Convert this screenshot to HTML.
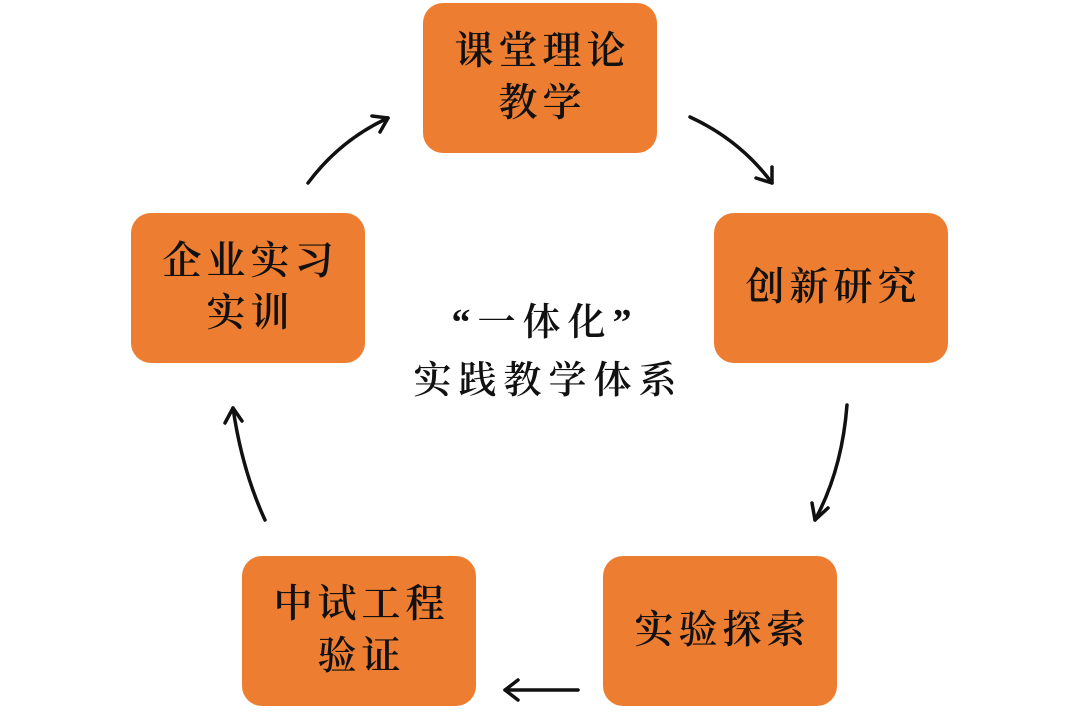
<!DOCTYPE html>
<html><head><meta charset="utf-8"><style>
html,body{margin:0;padding:0;background:#fff;}
body{width:1080px;height:720px;position:relative;overflow:hidden;font-family:"Liberation Serif","Noto Serif CJK SC",serif;}
.b{position:absolute;width:234px;height:150px;background:#ED7D31;border-radius:20px;display:flex;align-items:center;justify-content:center;text-align:center;font-size:39px;line-height:52px;color:#111;font-weight:600;letter-spacing:5px;}
.b span{margin-right:-5px;}
.c{position:absolute;left:345px;top:294px;width:400px;text-align:center;font-size:38px;line-height:58px;color:#111;font-weight:600;letter-spacing:7px;}
svg{position:absolute;left:0;top:0;}
</style></head><body>
<div class="b" style="left:423px;top:3px;"><span>课堂理论<br>教学</span></div>
<div class="b" style="left:714px;top:213px;"><span>创新研究</span></div>
<div class="b" style="left:603px;top:556px;"><span>实验探索</span></div>
<div class="b" style="left:242px;top:556px;"><span>中试工程<br>验证</span></div>
<div class="b" style="left:131px;top:213px;"><span>企业实习<br>实训</span></div>
<div class="c"><span style="margin-right:-7px">“一体化”<br>实践教学体系</span></div>
<svg width="1080" height="720" fill="none" stroke="#111" stroke-width="3.5" stroke-linecap="round" stroke-linejoin="round">
<path d="M308,183 Q340,140 388,118"/><path d="M372,116 L388,118 L380,132"/>
<path d="M690,117 Q740,140 772,183"/><path d="M756,178 L772,183 L772,167"/>
<path d="M847,405 Q842,470 815,520"/><path d="M812,503 L815,520 L828,508"/>
<path d="M578,690 L505,690"/><path d="M518,680 L505,690 L518,700"/>
<path d="M265,520 Q242,470 233,408"/><path d="M225,423 L233,408 L242,421"/>
</svg>
</body></html>
